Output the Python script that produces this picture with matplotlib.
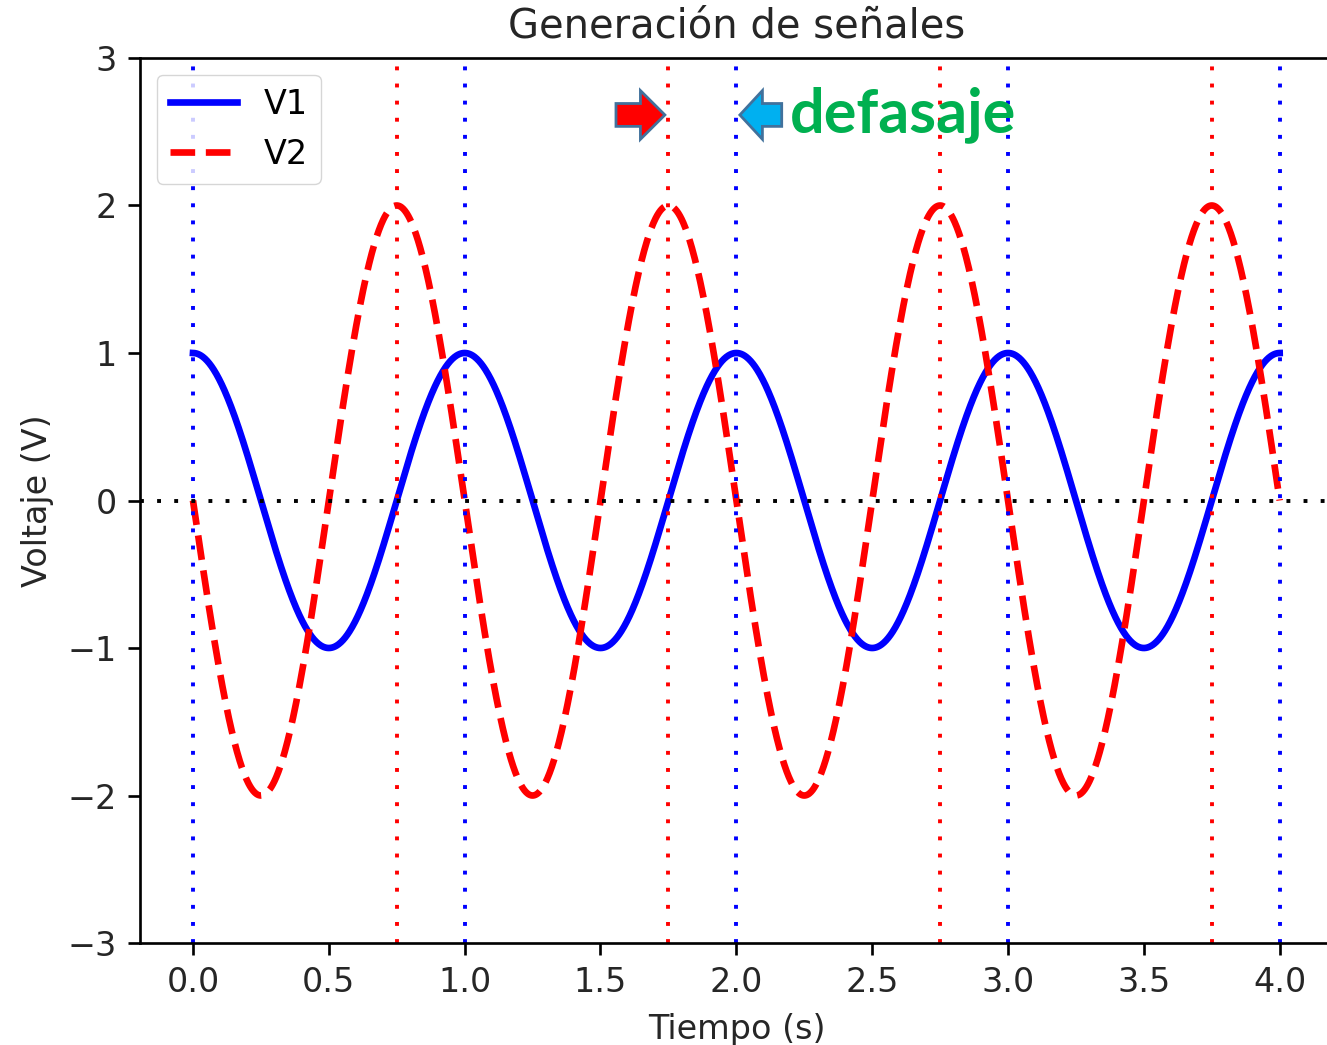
import numpy as np
import matplotlib
matplotlib.use("Agg")
import matplotlib.pyplot as plt
from matplotlib.patches import FancyArrow

# ---- data ----
t_start, t_end = 0.0, 4.0
frequency_hz = 1.0
v1_amplitude = 1.0
v1_phase = 0.0            # V1 = A1*cos(2*pi*f*t + phase)
v2_amplitude = 2.0
v2_phase = np.pi / 2      # V2 = A2*cos(2*pi*f*t + phase)
v1_peaks = [0.0, 1.0, 2.0, 3.0, 4.0]
v2_peaks = [0.75, 1.75, 2.75, 3.75]
x_ticks = [0.0, 0.5, 1.0, 1.5, 2.0, 2.5, 3.0, 3.5, 4.0]
y_ticks = [-3, -2, -1, 0, 1, 2, 3]
title = "Generación de señales"
xlabel = "Tiempo (s)"
ylabel = "Voltaje (V)"
labels = ["V1", "V2"]

t = np.linspace(t_start, t_end, 2000)
v1 = v1_amplitude * np.cos(2 * np.pi * frequency_hz * t + v1_phase)
v2 = v2_amplitude * np.cos(2 * np.pi * frequency_hz * t + v2_phase)

fig = plt.figure(figsize=(13.27, 10.45), dpi=100)
ax = fig.add_axes([0.1055, 0.0976, 0.8998, 0.8469])

S = 2.4
ax.plot(t, v1, color="blue", lw=2 * S, label=labels[0])
ax.plot(t, v2, color="red", lw=2 * S, ls="--", label=labels[1])
dot_lw = 2.8
for p in v1_peaks:
    ax.axvline(p, color="blue", lw=dot_lw, ls=(0, (1, 3.4)))
for p in v2_peaks:
    ax.axvline(p, color="red", lw=dot_lw, ls=(0, (1, 3.4)))
ax.axhline(0, color="black", lw=dot_lw, ls=(0, (1, 3.4)))

ax.set_xlim(-0.195, 4.2)
ax.set_ylim(-3, 3)
ax.set_xticks(x_ticks)
ax.set_xticklabels([f"{v:.1f}" for v in x_ticks])
ax.set_yticks(y_ticks)
ax.tick_params(labelsize=10 * S, length=3.5 * S, width=0.8 * S, pad=3.5 * S,
               color="black", labelcolor="#262626")
for sp in ax.spines.values():
    sp.set_linewidth(0.8 * S)
ax.spines["right"].set_visible(False)
ax.set_title(title, fontsize=12 * S, pad=6 * S, color="#262626")
ax.set_xlabel(xlabel, fontsize=10 * S, labelpad=4 * S, color="#262626")
ax.set_ylabel(ylabel, fontsize=10 * S, labelpad=4 * S, color="#262626")
ax.legend(loc="upper left", fontsize=10 * S, framealpha=0.8, edgecolor="0.8")

# annotation arrows and text
ax.add_patch(FancyArrow(1.557, 2.614, 0.18, 0, width=0.155, head_width=0.33,
                        head_length=0.09, length_includes_head=True,
                        facecolor="#FF0000", edgecolor="#41719C", lw=2.0, zorder=5))
ax.add_patch(FancyArrow(2.167, 2.614, -0.154, 0, width=0.155, head_width=0.33,
                        head_length=0.083, length_includes_head=True,
                        facecolor="#00B0F0", edgecolor="#41719C", lw=2.0, zorder=5))
ax.text(2.197, 2.498, "defasaje", color="#00B050", fontsize=44,
        fontweight="bold", family="Lato", ha="left", va="baseline", zorder=6)

fig.savefig("out.png", dpi=100)
